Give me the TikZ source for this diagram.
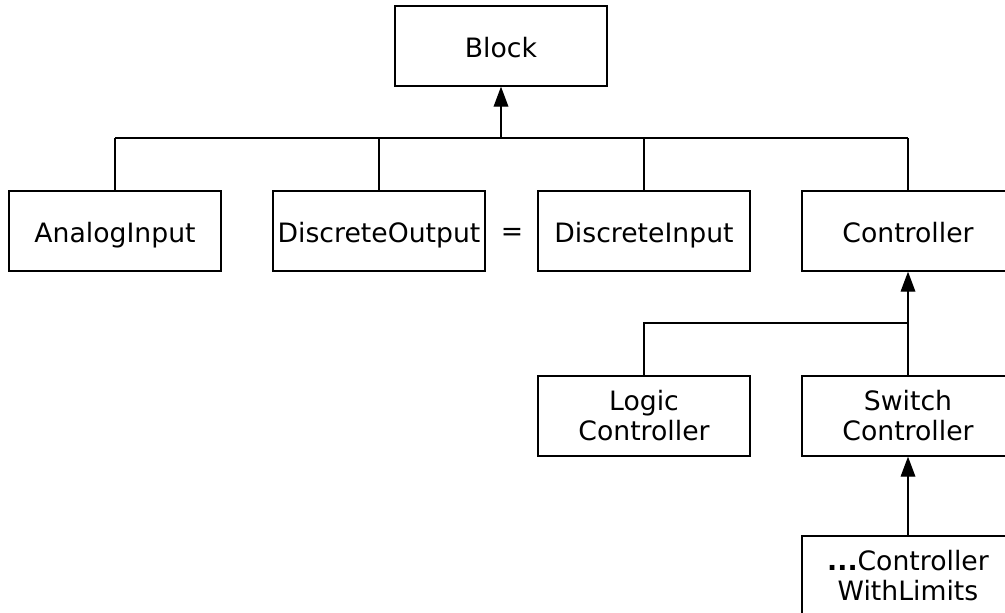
\documentclass[tikz,border=0pt]{standalone}
\usepackage{fontspec}
\setmainfont{DejaVu Sans}
\usetikzlibrary{arrows.meta}
\tikzset{
  cls/.style={draw, line width=1pt, minimum width=159pt, minimum height=60pt,
    align=center, inner sep=0pt},
  oneline/.style={text height=1.025em, text depth=0.2em},
  inherit/.style={line width=1pt, -{Triangle[length=15pt,width=11pt]}}
}
\begin{document}
\begin{tikzpicture}[x=0.75pt,y=-0.75pt,line width=1pt]
\fontsize{20}{22.5}\selectfont
\useasboundingbox (0,0) rectangle (1005,612);
\clip (0,0) rectangle (1005,612);
% class boxes
\node[cls,oneline] (block) at (501,46) {Block};
\node[cls,oneline] (analog) at (115,231) {AnalogInput};
\node[cls,oneline] (dout) at (379,231) {DiscreteOutput};
\node[cls,oneline] (din) at (644,231) {DiscreteInput};
\node[cls,oneline] (ctrl) at (908,231) {Controller};
\node (eq) at (512,234) {=};
\node[cls] (logic) at (644,416) {Logic\\Controller};
\node[cls] (switch) at (908,416) {Switch\\Controller};
\node[cls] (limits) at (908,576) {{\bfseries...}Controller\\WithLimits};
% first level
\coordinate (busL) at (115,138);
\coordinate (busR) at (908,138);
\draw (busL) -- (busR);
\foreach \n in {analog,dout,din,ctrl}
  \draw (\n.north) -- (\n.north |- busL);
\draw[inherit] (block.south |- busL) -- (block.south);
% controllers
\coordinate (bus2) at (908,323);
\draw[inherit] (switch.north) -- (ctrl.south);
\draw (logic.north) |- (bus2);
\draw[inherit] (limits.north) -- (switch.south);
\end{tikzpicture}
\end{document}
